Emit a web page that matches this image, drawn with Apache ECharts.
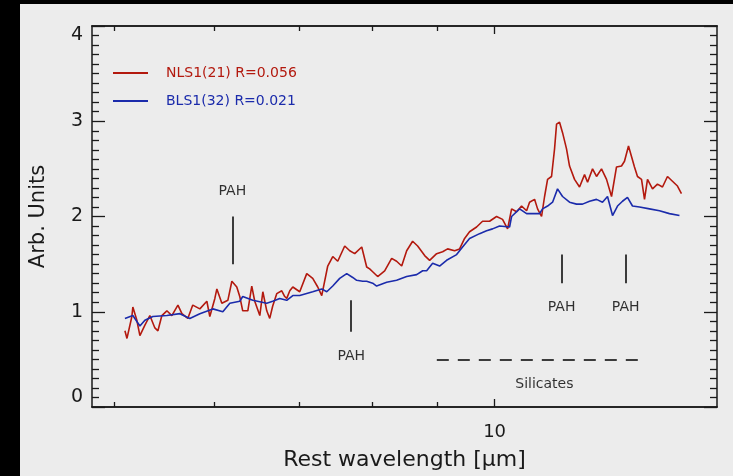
<!DOCTYPE html>
<html>
<head>
<meta charset="utf-8">
<script src="https://cdn.jsdelivr.net/npm/echarts@6/dist/echarts.min.js"></script>
<style>
  html, body { margin: 0; padding: 0; background: #000; width: 733px; height: 476px; overflow: hidden; }
  #chart { position: absolute; left: 20px; top: 4px; width: 713px; height: 472px; }
</style>
</head>
<body>
<div id="chart"></div>
<script>
// Mean mid-IR spectra (rest frame), narrow-line vs broad-line Seyfert 1s
const wavelengthNLS1 = [
  5.097, 5.116, 5.162, 5.171, 5.209, 5.238, 5.286, 5.334, 5.383, 5.413,
  5.452, 5.502, 5.552, 5.614, 5.655, 5.716, 5.768, 5.843, 5.918, 5.950,
  6.005, 6.027, 6.082, 6.149, 6.194, 6.250, 6.284, 6.318, 6.377, 6.423,
  6.458, 6.518, 6.554, 6.601, 6.637, 6.673, 6.722, 6.784, 6.821, 6.846,
  6.884, 6.922, 7.010, 7.100, 7.178, 7.244, 7.297, 7.377, 7.445, 7.513,
  7.609, 7.679, 7.707, 7.749, 7.777, 7.849, 7.920, 7.963, 8.007, 8.080,
  8.184, 8.289, 8.364, 8.442, 8.519, 8.612, 8.691, 8.803, 8.883, 8.997,
  9.096, 9.179, 9.297, 9.382, 9.468, 9.554, 9.677, 9.783, 9.909, 10.036,
  10.146, 10.240, 10.315, 10.409, 10.504, 10.601, 10.658, 10.756, 10.815, 10.894,
  10.954, 11.014, 11.094, 11.155, 11.196, 11.257, 11.319, 11.401, 11.464, 11.569,
  11.675, 11.782, 11.847, 11.955, 12.042, 12.152, 12.264, 12.376, 12.489, 12.603,
  12.672, 12.765, 12.835, 12.905, 12.976, 13.072, 13.143, 13.215, 13.336, 13.457,
  13.581, 13.705, 13.830, 13.957, 14.059
];
const fluxNLS1 = [
  0.80, 0.72, 0.95, 1.05, 0.91, 0.75, 0.86, 0.96, 0.83, 0.80,
  0.96, 1.01, 0.96, 1.07, 0.98, 0.93, 1.07, 1.03, 1.11, 0.95,
  1.14, 1.24, 1.09, 1.12, 1.32, 1.26, 1.16, 1.01, 1.01, 1.27,
  1.11, 0.96, 1.21, 1.01, 0.93, 1.06, 1.19, 1.22, 1.16, 1.14,
  1.22, 1.26, 1.21, 1.40, 1.35, 1.26, 1.17, 1.48, 1.58, 1.53,
  1.69, 1.64, 1.66, 1.61, 1.59, 1.68, 1.47, 1.45, 1.42, 1.37,
  1.43, 1.56, 1.53, 1.48, 1.64, 1.74, 1.69, 1.59, 1.54, 1.61,
  1.63, 1.66, 1.64, 1.66, 1.77, 1.84, 1.89, 1.95, 1.95, 2.00,
  1.97, 1.87, 2.08, 2.05, 2.11, 2.06, 2.15, 2.18, 2.08, 2.00,
  2.21, 2.39, 2.42, 2.71, 2.97, 2.99, 2.88, 2.71, 2.53, 2.39,
  2.31, 2.44, 2.36, 2.50, 2.42, 2.50, 2.39, 2.21, 2.52, 2.53,
  2.58, 2.74, 2.63, 2.52, 2.42, 2.39, 2.18, 2.39, 2.29, 2.34,
  2.31, 2.42, 2.37, 2.32, 2.24
];
const wavelengthBLS1 = [
  5.097, 5.171, 5.238, 5.286, 5.363, 5.502, 5.634, 5.737, 5.843, 5.983,
  6.093, 6.171, 6.284, 6.318, 6.435, 6.601, 6.673, 6.759, 6.846, 6.922,
  7.010, 7.178, 7.297, 7.364, 7.445, 7.540, 7.637, 7.721, 7.777, 7.863,
  7.920, 8.007, 8.065, 8.214, 8.364, 8.519, 8.676, 8.771, 8.835, 8.932,
  9.046, 9.162, 9.331, 9.433, 9.554, 9.730, 9.855, 9.963, 10.091, 10.277,
  10.315, 10.466, 10.601, 10.716, 10.854, 10.914, 11.014, 11.115, 11.216, 11.319,
  11.464, 11.611, 11.739, 11.890, 12.042, 12.174, 12.286, 12.399, 12.512, 12.626,
  12.741, 12.858, 13.024, 13.263, 13.507, 13.755, 14.008
];
const fluxBLS1 = [
  0.93, 0.96, 0.85, 0.91, 0.95, 0.96, 0.98, 0.93, 0.98, 1.03,
  1.00, 1.09, 1.11, 1.16, 1.12, 1.09, 1.11, 1.14, 1.12, 1.17,
  1.17, 1.21, 1.24, 1.21, 1.27, 1.35, 1.40, 1.36, 1.33, 1.32,
  1.32, 1.30, 1.27, 1.31, 1.33, 1.37, 1.39, 1.43, 1.43, 1.51,
  1.48, 1.54, 1.60, 1.68, 1.77, 1.82, 1.85, 1.87, 1.90, 1.89,
  2.00, 2.08, 2.03, 2.03, 2.03, 2.08, 2.11, 2.15, 2.29, 2.21,
  2.15, 2.13, 2.13, 2.16, 2.18, 2.15, 2.21, 2.01, 2.11, 2.16,
  2.20, 2.11, 2.10, 2.08, 2.06, 2.03, 2.01
];
const seriesNames = ['NLS1(21) R=0.056', 'BLS1(32) R=0.021'];
const seriesColors = ['#b3190e', '#1b2bab'];

// Axis ticks
const xRange = [4.8, 15];
const xMajorTicks = [10];
const xMinorTicks = [5, 6, 7, 8, 9];
const yRange = [0, 4];

// Feature markers
const pahBands = [6.2, 7.7, 11.3, 12.7];
const pahLineFrom = [1.5, 0.79, 1.3, 1.3];
const pahLineTo = [2.0, 1.12, 1.6, 1.6];
const pahLabelAt = [2.26, 0.53, 1.05, 1.05];
const silicateRange = [9.0, 13.0];
const silicateLevel = 0.5;
const silicateLabelAt = [10.95, 0.24];

const FONT = "'DejaVu Sans', sans-serif";
const INK = '#1a1a1a';

function pairs(xs, ys) { return xs.map((x, i) => [x, ys[i]]); }

function xAxisDef(position, ticks, tickLen, withLabels) {
  return {
    type: 'log', logBase: 10, position: position,
    min: xRange[0], max: xRange[1],
    axisLine: { show: true, onZero: false, lineStyle: { color: INK, width: 1.5 } },
    axisTick: { show: true, inside: true, length: tickLen, customValues: ticks, lineStyle: { color: INK, width: 1.3 } },
    axisLabel: withLabels
      ? { show: true, customValues: ticks, margin: 16, color: INK, fontFamily: FONT, fontSize: 18 }
      : { show: false },
    splitLine: { show: false },
    minorTick: { show: false }
  };
}

function yAxisDef(position, withLabels) {
  return {
    type: 'value', position: position,
    min: yRange[0], max: yRange[1], interval: 1,
    axisLine: { show: true, lineStyle: { color: INK, width: 1.5 } },
    axisTick: { show: true, inside: true, length: 13, lineStyle: { color: INK, width: 1.3 } },
    minorTick: { show: true, splitNumber: 10, length: 7, lineStyle: { color: INK, width: 1.3 } },
    axisLabel: withLabels
      ? { show: true, margin: 9, color: INK, fontFamily: FONT, fontSize: 19,
          verticalAlignMaxLabel: 'top', verticalAlignMinLabel: 'bottom' }
      : { show: false },
    splitLine: { show: false }
  };
}

const xAxes = [
  Object.assign(xAxisDef('bottom', xMajorTicks, 8, true), {
    name: 'Rest wavelength [μm]', nameLocation: 'middle', nameGap: 42,
    nameTextStyle: { color: INK, fontFamily: FONT, fontSize: 22 }
  }),
  xAxisDef('bottom', xMinorTicks, 5, false),
  xAxisDef('top', xMajorTicks, 8, false),
  xAxisDef('top', xMinorTicks, 5, false)
];

const yAxes = [
  Object.assign(yAxisDef('left', true), {
    name: 'Arb. Units', nameLocation: 'middle', nameGap: 43,
    nameTextStyle: { color: INK, fontFamily: FONT, fontSize: 21 }
  }),
  yAxisDef('right', false)
];

const pahLines = pahBands.map((b, i) => [{ coord: [b, pahLineFrom[i]] }, { coord: [b, pahLineTo[i]] }]);
const silicateLine = [[{ coord: [silicateRange[0], silicateLevel] }, { coord: [silicateRange[1], silicateLevel] }]];

const labelPoints = pahBands.map((b, i) => ({ name: 'PAH', value: [b, pahLabelAt[i]] }))
  .concat([{ name: 'Silicates', value: silicateLabelAt }]);

const chart = echarts.init(document.getElementById('chart'), null, { renderer: 'canvas' });
chart.setOption({
  animation: false,
  backgroundColor: '#ececec',
  grid: { left: 72, right: 16, top: 22, bottom: 67, containLabel: false },
  xAxis: xAxes,
  yAxis: yAxes,
  legend: {
    orient: 'vertical', left: 93, top: 62, padding: 0,
    icon: 'rect', itemWidth: 35, itemHeight: 2, itemGap: 14,
    textStyle: { fontFamily: FONT, fontSize: 14, padding: [0, 0, 0, 13] },
    data: seriesNames.map((n, i) => ({ name: n, textStyle: { color: seriesColors[i] } })),
    selectedMode: false
  },
  series: [
    {
      name: seriesNames[0], type: 'line', xAxisIndex: 0, yAxisIndex: 0,
      data: pairs(wavelengthNLS1, fluxNLS1), symbol: 'none',
      lineStyle: { color: seriesColors[0], width: 1.6 }, itemStyle: { color: seriesColors[0] }
    },
    {
      name: seriesNames[1], type: 'line', xAxisIndex: 0, yAxisIndex: 0,
      data: pairs(wavelengthBLS1, fluxBLS1), symbol: 'none',
      lineStyle: { color: seriesColors[1], width: 1.6 }, itemStyle: { color: seriesColors[1] }
    },
    {
      name: 'features', type: 'scatter', xAxisIndex: 0, yAxisIndex: 0,
      symbolSize: 1, itemStyle: { color: 'rgba(0,0,0,0)' }, silent: true,
      data: labelPoints,
      label: { show: true, position: 'inside', formatter: '{b}', color: '#000', fontFamily: FONT, fontSize: 14 },
      markLine: {
        silent: true, symbol: 'none', label: { show: false },
        lineStyle: { color: '#000', width: 1.5, type: 'solid' },
        data: pahLines.concat(silicateLine.map(seg => [
          Object.assign({}, seg[0], { lineStyle: { type: [12, 9], width: 1.5, color: '#000' } }), seg[1]
        ]))
      }
    }
  ]
});
</script>
</body>
</html>
